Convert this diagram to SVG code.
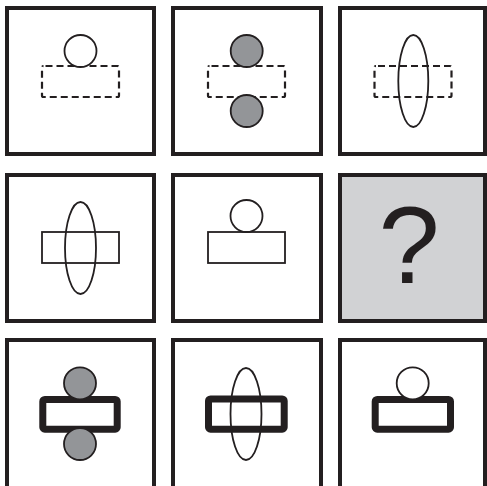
<svg xmlns="http://www.w3.org/2000/svg" width="487" height="486" viewBox="0 0 487 486">
<style>
.box{fill:#fff;stroke:#231f20;stroke-width:4}
.q{fill:#d1d2d4;stroke:#231f20;stroke-width:4}
.ln{fill:none;stroke:#231f20;stroke-width:1.8}
.wf{fill:#fff;stroke:#231f20;stroke-width:1.8}
.gc{fill:#939598;stroke:#231f20;stroke-width:1.8}
.dash{fill:none;stroke:#231f20;stroke-width:2.2;stroke-dasharray:7 4;stroke-dashoffset:-2}
.thick{fill:#fff;stroke:#231f20;stroke-width:7}
.qt{font-family:"Liberation Sans",Arial,sans-serif;font-size:110px;fill:#231f20;text-anchor:middle}
</style>
<g id="p11">
<rect class="box" x="7" y="8" width="147" height="146"/>
<rect class="dash" x="42" y="66" width="77" height="31" rx="1.5"/>
<circle class="wf" cx="80.5" cy="51" r="16"/>
</g>
<g id="p12">
<rect class="box" x="173" y="8" width="148" height="146"/>
<rect class="dash" x="208" y="66" width="77" height="31" rx="1.5"/>
<circle class="gc" cx="246.7" cy="51" r="16"/>
<circle class="gc" cx="246.7" cy="111" r="16"/>
</g>
<g id="p13">
<rect class="box" x="340" y="8" width="145" height="146"/>
<rect class="dash" x="374.5" y="66" width="77" height="31" rx="1.5"/>
<ellipse class="ln" cx="413.3" cy="81" rx="15" ry="46"/>
</g>
<g id="p21">
<rect class="box" x="7" y="175" width="147" height="146"/>
<rect class="ln" x="42" y="232" width="77" height="31"/>
<ellipse class="ln" cx="80.5" cy="248" rx="15.5" ry="46"/>
</g>
<g id="p22">
<rect class="box" x="173" y="175" width="148" height="146"/>
<rect class="ln" x="208" y="232" width="77" height="31"/>
<circle class="wf" cx="246.5" cy="216" r="16"/>
</g>
<g id="p23">
<rect class="q" x="340" y="175" width="145" height="146"/>
<text class="qt" x="409" y="283">?</text>
</g>
<g id="p31">
<rect class="box" x="7" y="340" width="147" height="148"/>
<rect class="thick" x="42.8" y="399.5" width="74.4" height="29.7" rx="2"/>
<circle class="gc" cx="80" cy="383.3" r="16"/>
<circle class="gc" cx="80" cy="444" r="16"/>
</g>
<g id="p32">
<rect class="box" x="173" y="340" width="148" height="148"/>
<rect class="thick" x="208.5" y="399" width="75.7" height="30.2" rx="2"/>
<ellipse class="ln" cx="246" cy="414" rx="15.5" ry="46"/>
</g>
<g id="p33">
<rect class="box" x="340" y="340" width="145" height="148"/>
<rect class="thick" x="375.2" y="399.5" width="75.3" height="29.7" rx="2"/>
<circle class="wf" cx="412.7" cy="383.3" r="16"/>
</g>
</svg>
